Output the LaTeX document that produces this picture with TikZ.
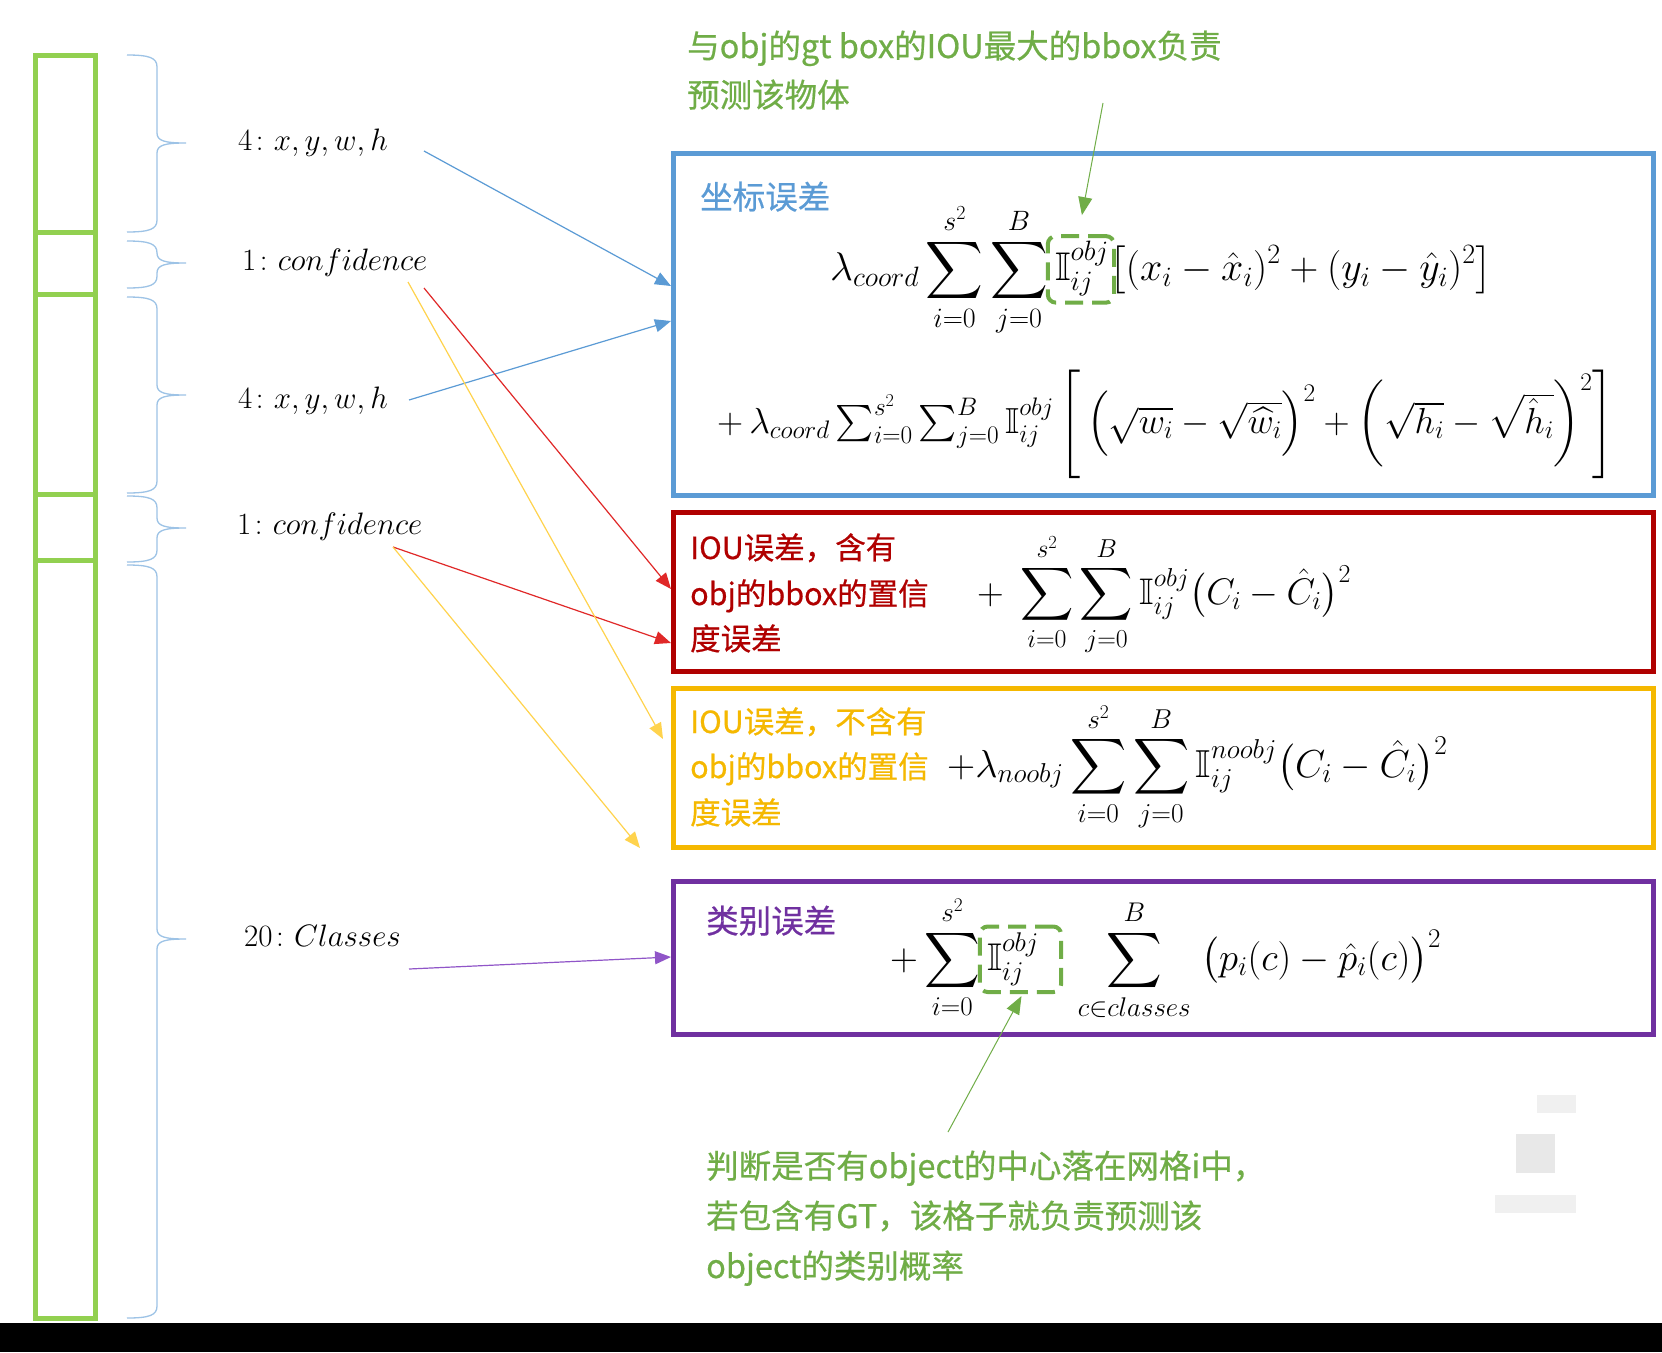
\documentclass[tikz,border=0pt]{standalone}
\usepackage{amsmath}
\usepackage{amssymb}
\DeclareFontShape{OT1}{cmr}{m}{n}{<-6>cmr5<6-7>cmr6<7-8>cmr7<8-9>cmr8<9-10>cmr9<10-12>cmr10<12-17>cmr12<17->cmr17}{}
\DeclareFontShape{OML}{cmm}{m}{it}{<-6>cmmi5<6-7>cmmi6<7-8>cmmi7<8-9>cmmi8<9-10>cmmi9<10-12>cmmi10<12->cmmi12}{}
\DeclareFontShape{OMS}{cmsy}{m}{n}{<-6>cmsy5<6-7>cmsy6<7-8>cmsy7<8-9>cmsy8<9-10>cmsy9<10->cmsy10}{}
\DeclareFontShape{OMX}{cmex}{m}{n}{<->cmex10}{}
\DeclareFontFamily{U}{msb}{}
\DeclareFontShape{U}{msb}{m}{n}{<->msbm10}{}
\usepackage{fontspec}
\newfontfamily\cjk{Noto Sans CJK SC}[FakeBold=0.6]
\usetikzlibrary{arrows.meta,calc,fit}
\definecolor{barGreen}{HTML}{92D050}
\definecolor{braceBlue}{HTML}{9DC3E6}
\definecolor{boxBlue}{HTML}{5B9BD5}
\definecolor{boxRed}{HTML}{B00000}
\definecolor{arrRed}{HTML}{E02828}
\definecolor{boxYellow}{HTML}{F5B800}
\definecolor{arrYellow}{HTML}{FFD34D}
\definecolor{boxPurple}{HTML}{7030A0}
\definecolor{arrPurple}{HTML}{9055C8}
\definecolor{noteGreen}{HTML}{70AD47}
\newcommand{\tallstrut}[2]{\rule[#1]{0pt}{#2}}
\begin{document}
\begin{tikzpicture}[x=1pt,y=-1pt,
  lossbox/.style={draw, line width=4.5pt, minimum width=980pt, anchor=north west, inner sep=0pt},
  conn/.style={line width=1.2pt, -{Triangle[length=16pt,width=13pt]}},
  lab/.style={anchor=west, inner sep=0pt, font=\fontsize{31}{37}\selectfont},
  cjkbig/.style={anchor=base west, inner sep=0pt, font=\cjk\fontsize{32.5}{40}\selectfont},
  cjksmall/.style={anchor=base west, inner sep=0pt, font=\cjk\fontsize{30.5}{40}\selectfont},
  frm/.style={anchor=base west, inner sep=0pt},
  dashbox/.style={draw=noteGreen, line width=4pt, dash pattern=on 18pt off 9pt, rounded corners=8pt, inner sep=0pt},
  bracepath/.style={draw=braceBlue, line width=1.3pt}
]
\useasboundingbox (0,0) rectangle (1662,1352);
\fill[white] (0,0) rectangle (1662,1323);
\fill[black] (0,1323) rectangle (1662,1352);

% faint watermark squares
\fill[black!6] (1537,1095) rectangle (1576,1113);
\fill[black!9] (1516,1134) rectangle (1555,1173);
\fill[black!6] (1495,1195) rectangle (1576,1213);

% vector bar
\draw[barGreen, line width=5pt] (35,55) rectangle (95,1318);
\foreach \y in {232,294,494,560} \draw[barGreen, line width=5pt] (35,\y) -- (95,\y);

% braces
\foreach \a/\m/\b in {55/143/232, 241/263/288, 297/395/493, 496/528/562, 565/939/1318} {
  \draw[bracepath] (127,\a) .. controls (150,\a) and (157,\a+3) .. (157,\a+12) -- (157,\m-10)
     .. controls (157,\m-2) and (165,\m) .. (186,\m)
     .. controls (165,\m) and (157,\m+2) .. (157,\m+10) -- (157,\b-12)
     .. controls (157,\b-3) and (150,\b) .. (127,\b);
}

% labels
\node[lab] (l1) at (238,143) {$4\colon x, y, w, h$};
\node[lab] (l2) at (242,263) {$1\colon confidence$};
\node[lab] (l3) at (238,401) {$4\colon x, y, w, h$};
\node[lab] (l4) at (237,527) {$1\colon confidence$};
\node[lab] (l5) at (244,936) {$20\colon Classes$};

% boxes
\node[lossbox, draw=boxBlue, minimum height=342pt] (bluebox) at (671,151) {};
\node[lossbox, draw=boxRed, minimum height=159pt] (redbox) at (671,510) {};
\node[lossbox, draw=boxYellow, minimum height=159pt] (yellowbox) at (671,686) {};
\node[lossbox, draw=boxPurple, minimum height=153pt] (purplebox) at (671,879) {};

% box titles
\node[cjkbig, text=boxBlue] (tb) at (700,209) {坐标误差};
\node[cjksmall, text=boxRed] (tr1) at (690,559) {IOU误差，含有};
\node[cjksmall, text=boxRed] (tr2) at (690,605) {obj的bbox的置信};
\node[cjksmall, text=boxRed] (tr3) at (690,650) {度误差};
\node[cjksmall, text=boxYellow] (ty1) at (690,733) {IOU误差，不含有};
\node[cjksmall, text=boxYellow] (ty2) at (690,778) {obj的bbox的置信};
\node[cjksmall, text=boxYellow] (ty3) at (690,824) {度误差};
\node[cjkbig, text=boxPurple] (tp) at (706,933) {类别误差};

% notes
\node[cjkbig, text=noteGreen] (n1) at (687,58) {与obj的gt box的IOU最大的bbox负责};
\node[cjkbig, text=noteGreen] (n2) at (687,107) {预测该物体};
\node[cjkbig, text=noteGreen] (m1) at (706,1178) {判断是否有object的中心落在网格i中，};
\node[cjkbig, text=noteGreen] (m2) at (706,1228) {若包含有GT，该格子就负责预测该};
\node[cjkbig, text=noteGreen] (m3) at (706,1278) {object的类别概率};

% formulas
\begin{scope}[every node/.append style={font=\fontsize{40}{48}\selectfont}]
\node[frm] (f1a) at (830,280) {$\displaystyle \lambda_{coord}\sum_{i=0}^{s^2}\sum_{j=0}^{B}\,$};
\node[frm] (f1b) at (f1a.base east) {$\displaystyle\mathbb{I}_{ij}^{obj}$};
\node[frm] (f1c) at (f1b.base east) {$\displaystyle\left[(x_i-\hat{x}_i)^2+(y_i-\hat{y}_i)^2\right]$};
\end{scope}

\node[frm, font=\fontsize{36.2}{43}\selectfont] (f2) at (717,433) {$+\,\lambda_{coord}\sum\nolimits_{i=0}^{s^2}\sum\nolimits_{j=0}^{B}\mathbb{I}_{ij}^{obj}\left[\tallstrut{-1.175em}{2.85em}\left(\tallstrut{-0.455em}{1.41em}\sqrt{w_i}-\sqrt{\widehat{w}_i}\right)^2+\left(\tallstrut{-0.925em}{2.35em}\sqrt{h_i}-\sqrt{\hat{h}_i}\right)^2\right]$};

\node[frm, font=\fontsize{37}{44}\selectfont] (f3) at (977,604) {$\displaystyle +\;\sum_{i=0}^{s^2}\sum_{j=0}^{B}\mathbb{I}_{ij}^{obj}\bigl(C_i-\hat{C}_i\bigr)^2$};

\node[frm, font=\fontsize{39}{46}\selectfont] (f4) at (947,777) {$\displaystyle +\lambda_{noobj}\sum_{i=0}^{s^2}\sum_{j=0}^{B}\mathbb{I}_{ij}^{noobj}\bigl(C_i-\hat{C}_i\bigr)^2$};

\begin{scope}[every node/.append style={font=\fontsize{38.6}{46}\selectfont}]
\node[frm] (f5a) at (890,970) {$\displaystyle +\sum_{i=0}^{s^2}\,$};
\node[frm] (f5b) at (f5a.base east) {$\displaystyle\mathbb{I}_{ij}^{obj}$};
\node[frm] (f5c) at (f5b.base east) {$\displaystyle\quad\sum_{c\in classes}^{B}\;\bigl(p_i(c)-\hat{p}_i(c)\bigr)^2$};
\end{scope}

% dashed highlight boxes
\node[dashbox, fit={($(f1b.north west)+(-7,-5)$) ($(f1b.south east)+(5,6)$)}] (d1) {};
\node[dashbox, fit={($(f5b.north west)+(-7,-6)$) ($(f5b.south east)+(22,6)$)}] (d2) {};

% connectors
\coordinate (s1) at (424,151);
\coordinate (s2) at (424,288);
\coordinate (s3) at (408,282);
\coordinate (s4) at (409,400);
\coordinate (s5) at (393,547);
\coordinate (s6) at (409,969);
\coordinate (s7) at (1103,103);
\coordinate (s8) at (948,1132);
\coordinate (yend) at (640,848);

\draw[conn, boxBlue] (s1) -- ($(bluebox.north west)+(0,135)$);
\draw[conn, boxBlue] (s4) -- ($(bluebox.north west)+(0,170)$);
\draw[conn, arrRed] (s2) -- ($(redbox.north west)+(0,79)$);
\draw[conn, arrRed] (s5) -- ($(redbox.north west)+(0,133)$);
\draw[conn, arrYellow] (s3) -- ($(yellowbox.north west)+(-8,53)$);
\draw[conn, arrYellow] (s5) -- (yend);
\draw[conn, arrPurple] (s6) -- ($(purplebox.north west)+(0,78)$);
\draw[conn, noteGreen, line width=1pt, -{Triangle[length=18pt,width=14pt]}] (s7) -- ($(d1.north)+(1,-19)$);
\draw[conn, noteGreen, line width=1pt, -{Triangle[length=18pt,width=14pt]}] (s8) -- ($(d2.south)+(1,2)$);
\end{tikzpicture}
\end{document}
